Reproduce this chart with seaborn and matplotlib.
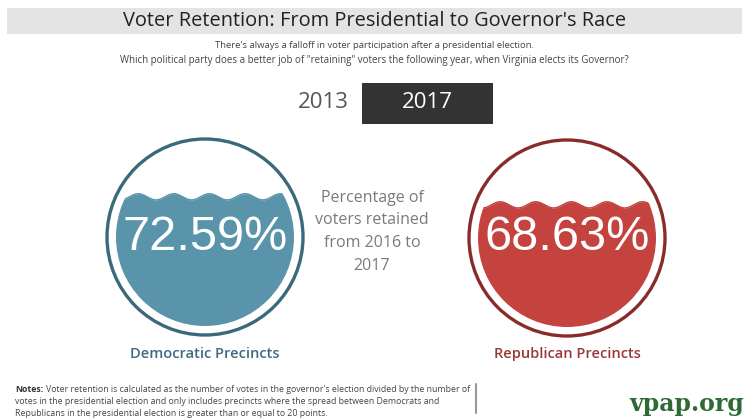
import numpy as np
import pandas as pd
import seaborn as sns
import matplotlib
matplotlib.use("Agg")
import matplotlib.pyplot as plt
from matplotlib.patches import Circle, Rectangle

# ---- data ----
parties = ["Democratic Precincts", "Republican Precincts"]
retention = [72.59, 68.63]
years = ["2013", "2017"]
selected_year = "2017"
title = "Voter Retention: From Presidential to Governor's Race"
subtitle = ["There's always a falloff in voter participation after a presidential election.",
            "Which political party does a better job of \"retaining\" voters the following year, when Virginia elects its Governor?"]
center_label = ["Percentage of", "voters retained", "from 2016 to", "2017"]
notes = ["Voter retention is calculated as the number of votes in the governor's election divided by the number of",
         "votes in the presidential election and only includes precincts where the spread between Democrats and",
         "Republicans in the presidential election is greater than or equal to 20 points."]
brand = "vpap.org"

fill_colors = ["#5a94aa", "#c4433f"]
ring_colors = ["#3a6a7a", "#8a2b2b"]
label_colors = ["#3e6a82", "#9a3838"]

sns.set_theme(style="white")
plt.rcParams['font.family'] = ['Open Sans', 'DejaVu Sans']

W, H = 749, 420
fig = plt.figure(figsize=(W / 100, H / 100), dpi=100)
fig.patch.set_facecolor("white")
ax = fig.add_axes([0, 0, 1, 1])
ax.set_xlim(0, W)
ax.set_ylim(H, 0)
ax.axis("off")

# title band
ax.add_patch(Rectangle((7, 8), 735, 26, color="#e4e4e4", lw=0))
ax.text(W / 2, 21, title, ha="center", va="center", fontsize=14.4, color="#222222")
ax.text(W / 2, 46, subtitle[0], ha="center", va="center", fontsize=6.8, color="#444444")
ax.text(W / 2, 61, subtitle[1], ha="center", va="center", fontsize=7.0, color="#444444")

# year selector
ax.text(323, 103, years[0], ha="center", va="center", fontsize=16, color="#555555")
ax.add_patch(Rectangle((362, 83), 131, 41, color="#333333", lw=0))
ax.text(427, 103, years[1], ha="center", va="center", fontsize=16, color="white")

# center text
for i, line in enumerate(center_label):
    ax.text(372, 198 + 22.5 * i, line, ha="center", va="center", fontsize=11.5, color="#7a7a7a")

# circles
centers = [(205, 237), (567, 238)]
r_in = 89.0
half = 100.0
xs = np.linspace(-1.2, 1.2, 400)
for i, (cx, cy) in enumerate(centers):
    iax = fig.add_axes([(cx - half) / W, 1 - (cy + half) / H, 2 * half / W, 2 * half / H])
    lim = half / r_in
    iax.set_xlim(-lim, lim)
    iax.set_ylim(-lim, lim)
    iax.axis("off")
    ring = Circle((0, 0), 98 / r_in, fill=False, ec=ring_colors[i], lw=2.4)
    iax.add_patch(ring)
    clip = Circle((0, 0), 1.0, transform=iax.transData)
    level = -1 + 2 * retention[i] / 100
    wave = level + 0.035 * np.sin(xs / 0.4 * 2 * np.pi + 0.8)
    fb = iax.fill_between(xs, -1.2, wave, color=fill_colors[i], lw=0)
    fb.set_clip_path(clip)
    sns.lineplot(x=xs, y=wave, ax=iax, color=fill_colors[i], lw=1, clip_path=clip)
    iax.text(0, 0, f"{retention[i]:.2f}%", ha="center", va="center", color="white",
             fontsize=35, family=["Liberation Sans"])
    ax.text(cx, 354, parties[i], ha="center", va="center", fontsize=10.5,
            fontweight="semibold", color=label_colors[i])

# notes
note_y = [390, 402, 414]
nfs = 6.3
t0 = ax.text(15, note_y[0], "Notes:", ha="left", va="center", fontsize=nfs, fontweight="bold", color="#333333")
ax.annotate(notes[0], xy=(1, 0.5), xycoords=t0, xytext=(2, 0), textcoords="offset points",
            ha="left", va="center", fontsize=nfs, color="#444444")
ax.text(15, note_y[1], notes[1], ha="left", va="center", fontsize=nfs, color="#444444")
ax.text(15, note_y[2], notes[2], ha="left", va="center", fontsize=nfs, color="#444444")
ax.plot([476, 476], [384, 413], color="#999999", lw=1.5)

ax.text(744, 404, brand, ha="right", va="center", fontsize=17, fontweight="bold",
        family=["DejaVu Serif"], color="#2e6a36")

fig.savefig("out.png", dpi=100, facecolor="white")
